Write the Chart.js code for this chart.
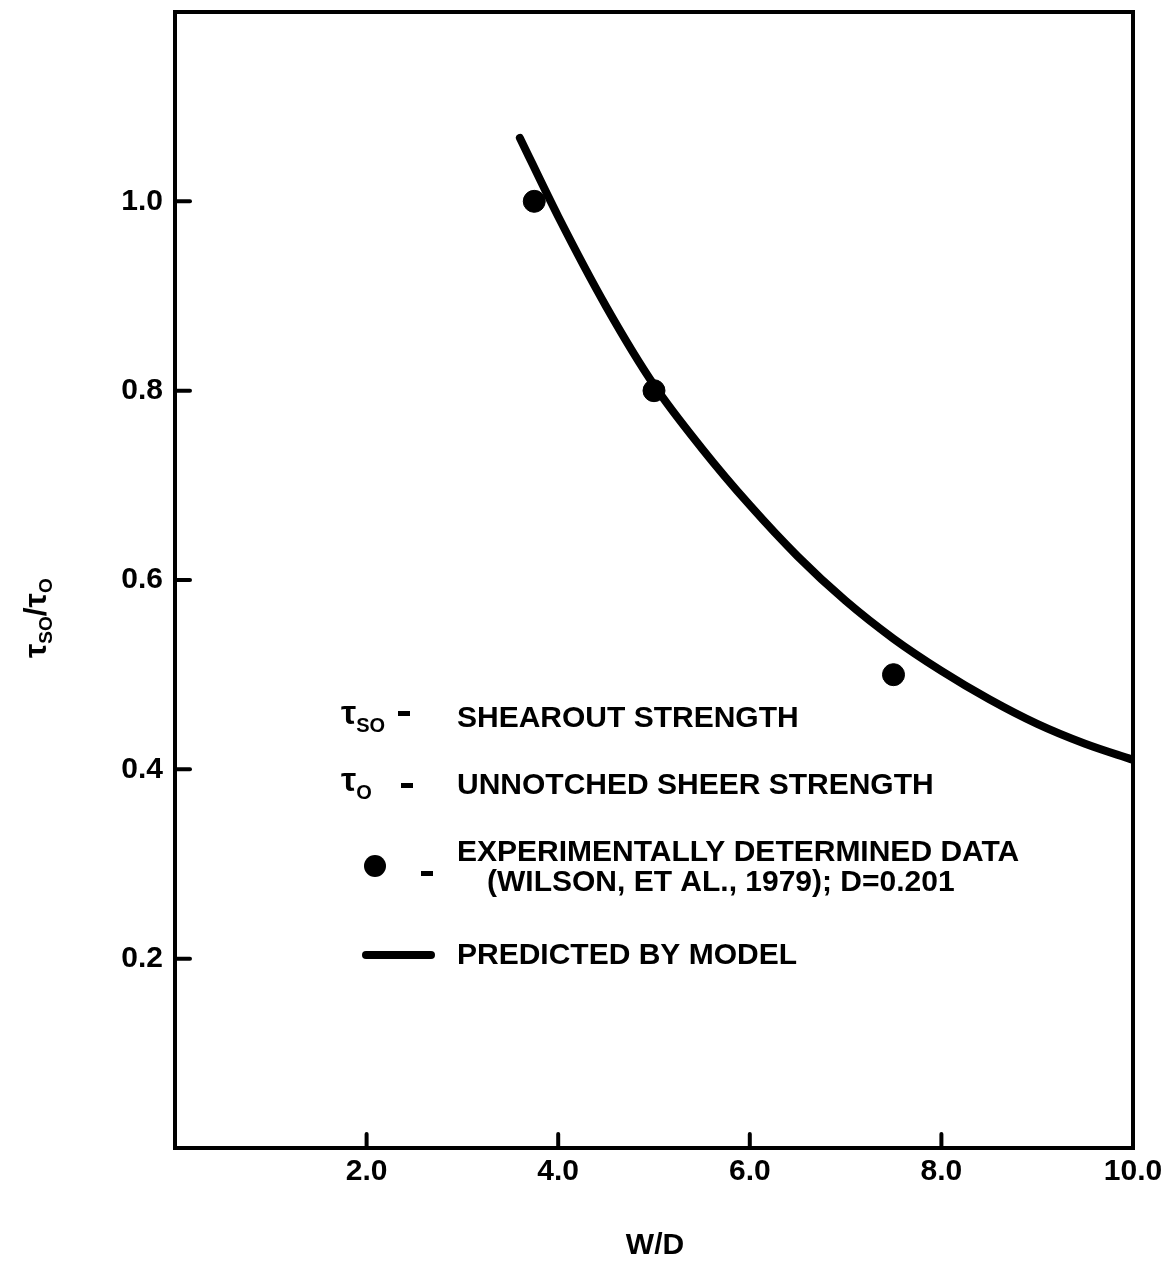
<!DOCTYPE html>
<html>
<head>
<meta charset="utf-8">
<script src="https://cdn.jsdelivr.net/npm/chart.js@4.4.1/dist/chart.umd.min.js"></script>
<style>
  html, body { margin: 0; padding: 0; background: #fff; }
  #wrap { width: 1166px; height: 1273px; }
</style>
</head>
<body>
<div id="wrap"><canvas id="chart" width="1166" height="1273"></canvas></div>
<script>
// W/D ratio and tau_so / tau_o
const testWD = [3.75, 5.0, 7.5];
const testRatio = [1.0, 0.80, 0.50];

const modelWD = [3.6, 4.0, 4.5, 5.0, 5.5, 6.0, 6.5, 7.0, 7.5, 8.0, 8.5, 9.0, 9.5, 10.0];
const modelRatio = [1.067, 0.984, 0.889, 0.806, 0.739, 0.679, 0.625, 0.578, 0.538, 0.504, 0.474, 0.448, 0.427, 0.410];

const xTicks = [2, 4, 6, 8, 10];
const yTicks = [0.2, 0.4, 0.6, 0.8, 1.0];

const FONT = '"Liberation Sans", Arial, sans-serif';

// frame, inward tick marks, axis titles and the legend text
const decorations = {
  id: 'decorations',
  afterDatasetsDraw(chart) {
    const { ctx, chartArea: a, scales } = chart;
    ctx.save();
    ctx.strokeStyle = '#000';
    ctx.fillStyle = '#000';
    ctx.lineWidth = 4;
    ctx.strokeRect(a.left, a.top, a.right - a.left, a.bottom - a.top);

    // ticks point into the plot
    ctx.lineCap = 'round';
    xTicks.forEach(v => {
      if (v >= 10) return;
      const x = scales.x.getPixelForValue(v);
      ctx.beginPath(); ctx.moveTo(x, a.bottom); ctx.lineTo(x, a.bottom - 14); ctx.stroke();
    });
    yTicks.forEach(v => {
      const y = scales.y.getPixelForValue(v);
      ctx.beginPath(); ctx.moveTo(a.left, y); ctx.lineTo(a.left + 15, y); ctx.stroke();
    });

    // x title
    ctx.font = 'bold 30px ' + FONT;
    ctx.textAlign = 'center';
    ctx.textBaseline = 'middle';
    ctx.fillText('W/D', 655, 1246);

    // y title, rotated: tau_so / tau_o
    ctx.save();
    ctx.translate(38, 612);
    ctx.rotate(-Math.PI / 2);
    ctx.textAlign = 'left';
    ctx.textBaseline = 'alphabetic';
    let x = -46;
    ctx.font = 'bold 32px ' + FONT;
    ctx.fillText('τ', x, 8); x += ctx.measureText('τ').width;
    ctx.font = 'bold 19px ' + FONT;
    ctx.fillText('SO', x, 14); x += ctx.measureText('SO').width;
    ctx.font = 'bold 32px ' + FONT;
    ctx.fillText('/', x, 8); x += ctx.measureText('/').width;
    ctx.fillText('τ', x, 8); x += ctx.measureText('τ').width;
    ctx.font = 'bold 19px ' + FONT;
    ctx.fillText('O', x, 14);
    ctx.restore();

    // legend
    ctx.textAlign = 'left';
    ctx.textBaseline = 'middle';
    const sym = (sub, y) => {
      ctx.font = 'bold 34px ' + FONT;
      ctx.fillText('τ', 341, y - 3);
      const w = ctx.measureText('τ').width;
      ctx.font = 'bold 20px ' + FONT;
      ctx.fillText(sub, 341 + w, y + 8);
    };
    const dash = (x, y) => { ctx.fillRect(x, y - 2, 12, 5); };

    sym('SO', 718); dash(398, 713);
    sym('O', 785); dash(401, 785);
    ctx.beginPath(); ctx.arc(375, 866, 11, 0, Math.PI * 2); ctx.fill();
    dash(421, 873);
    ctx.lineWidth = 8; ctx.lineCap = 'round';
    ctx.beginPath(); ctx.moveTo(366, 955); ctx.lineTo(431, 955); ctx.stroke();

    ctx.font = 'bold 30px ' + FONT;
    ctx.fillText('SHEAROUT STRENGTH', 457, 719);
    ctx.fillText('UNNOTCHED SHEER STRENGTH', 457, 786);
    ctx.fillText('EXPERIMENTALLY DETERMINED DATA', 457, 853);
    ctx.fillText('(WILSON, ET AL., 1979); D=0.201', 487, 883);
    ctx.fillText('PREDICTED BY MODEL', 457, 956);
    ctx.restore();
  }
};

new Chart(document.getElementById('chart'), {
  type: 'scatter',
  data: {
    datasets: [
      {
        label: 'Predicted by model',
        type: 'line',
        data: modelWD.map((w, i) => ({ x: w, y: modelRatio[i] })),
        borderColor: '#000',
        borderWidth: 8,
        borderCapStyle: 'round',
        pointRadius: 0,
        cubicInterpolationMode: 'monotone',
        fill: false
      },
      {
        label: 'Experimentally determined data',
        data: testWD.map((w, i) => ({ x: w, y: testRatio[i] })),
        backgroundColor: '#000',
        borderColor: '#000',
        pointRadius: 11,
        pointHoverRadius: 11
      }
    ]
  },
  options: {
    responsive: false,
    animation: false,
    events: [],
    layout: { padding: { top: 10, right: 33, left: 0, bottom: 0 } },
    plugins: { legend: { display: false }, tooltip: { enabled: false } },
    scales: {
      x: {
        type: 'linear', min: 0, max: 10,
        afterFit: s => { s.height = 125; s.paddingLeft = 0; s.paddingRight = 0; },
        afterBuildTicks: s => { s.ticks = [0].concat(xTicks).map(v => ({ value: v })); },
        grid: { display: false, drawTicks: false },
        border: { display: false },
        ticks: {
          padding: 6,
          color: '#000',
          font: { family: FONT, size: 30, weight: 'bold' },
          maxRotation: 0,
          callback: v => v === 0 ? '' : v.toFixed(1)
        }
      },
      y: {
        type: 'linear', min: 0, max: 1.2,
        afterFit: s => { s.width = 175; s.paddingTop = 0; s.paddingBottom = 0; },
        afterBuildTicks: s => { s.ticks = [0].concat(yTicks, [1.2]).map(v => ({ value: v })); },
        grid: { display: false, drawTicks: false },
        border: { display: false },
        ticks: {
          padding: 12,
          color: '#000',
          font: { family: FONT, size: 30, weight: 'bold' },
          callback: v => (v === 0 || v > 1.1) ? '' : v.toFixed(1)
        }
      }
    }
  },
  plugins: [decorations]
});
</script>
</body>
</html>
